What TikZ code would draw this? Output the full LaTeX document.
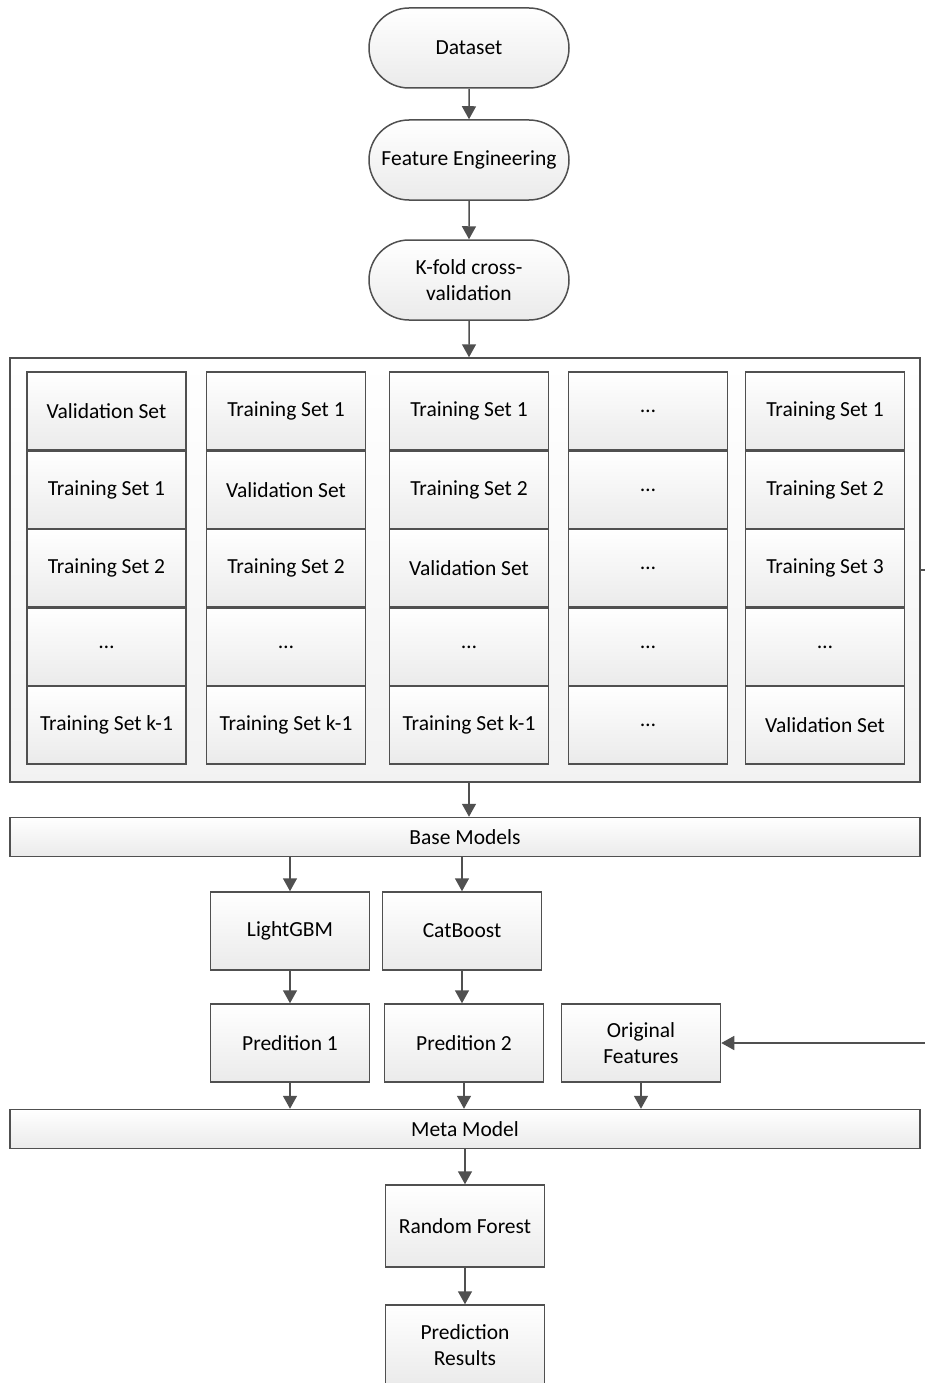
\documentclass[tikz,border=0pt]{standalone}
\usepackage{fontspec}
\setmainfont{Carlito}
\usetikzlibrary{arrows.meta,shapes.misc}
\definecolor{linegray}{RGB}{80,80,80}
\tikzset{
  box/.style={draw=linegray,line width=1.5pt,top color=white,bottom color=black!8,
    minimum width=159pt,minimum height=78pt,align=center,inner sep=2pt,
    font=\fontsize{21.5}{26}\selectfont},
  cell/.style={box,minimum height=78.4pt},
  term/.style={box,rounded rectangle,minimum width=204pt,minimum height=80pt},
  bar/.style={box,minimum width=910pt,minimum height=39pt},
  flow/.style={draw=linegray,line width=1.5pt,-{Triangle[width=14pt,length=13pt]}},
  link/.style={draw=linegray,line width=1.5pt},
}
\begin{document}
\begin{tikzpicture}[x=1pt,y=-1pt]
	  \useasboundingbox (0,0) rectangle (925,1383);
	  \node (data) [term] at (469,48) {Dataset};
	  \node (feat) [term] at (469,160) {Feature Engineering};
	  \node (kfold) [term] at (469,280) {K-fold cross-\\validation};
	  \node (folds) [box,minimum width=910pt,minimum height=424pt,bottom color=black!5] at (465,570) {};
	  \foreach \y/\a/\b/\c/\d/\e [count=\r] in {
	      411/Validation Set/Training Set 1/Training Set 1/\dots/Training Set 1,
	      490/Training Set 1/Validation Set/Training Set 2/\dots/Training Set 2,
	      568/Training Set 2/Training Set 2/Validation Set/\dots/Training Set 3,
	      647/\dots/\dots/\dots/\dots/\dots,
	      725/Training Set k-1/Training Set k-1/Training Set k-1/\dots/Validation Set}
	  {
	    \node (c\r a) [cell] at (106.5,\y) {\a};
	    \node (c\r b) [cell] at (286,\y) {\b};
	    \node (c\r c) [cell] at (469,\y) {\c};
	    \node (c\r d) [cell] at (648,\y) {\d};
	    \node (c\r e) [cell] at (825,\y) {\e};
	  }
	  \node (base) [bar] at (465,837) {Base Models};
	  \node (lgbm) [box] at (290,931) {LightGBM};
	  \node (cat) [box] at (462,931) {CatBoost};
	  \node (pred1) [box] at (290,1043) {Predition 1};
	  \node (pred2) [box] at (464,1043) {Predition 2};
	  \node (orig) [box] at (641,1043) {Original\\Features};
	  \node (meta) [bar] at (465,1129) {Meta Model};
	  \node (rf) [box,minimum height=82pt] at (465,1226) {Random Forest};
	  \node (res) [box,minimum height=80pt] at (465,1345) {Prediction\\Results};
	  \coordinate (edge1) at (926,570);
	  \coordinate (edge2) at (926,1043);
	  % connectors
	  \draw[flow] (data) -- (feat);
	  \draw[flow] (feat) -- (kfold);
	  \draw[flow] (kfold) -- (kfold |- folds.north);
	  \draw[flow] (folds.south -| kfold) -- (base.north -| kfold);
	  \draw[flow] (base.south -| lgbm) -- (lgbm);
	  \draw[flow] (base.south -| cat) -- (cat);
	  \draw[flow] (lgbm) -- (pred1);
	  \draw[flow] (cat) -- (cat |- pred2.north);
	  \draw[flow] (pred1) -- (pred1 |- meta.north);
	  \draw[flow] (pred2) -- (pred2 |- meta.north);
	  \draw[flow] (orig) -- (orig |- meta.north);
	  \draw[flow] (meta.south -| rf) -- (rf);
	  \draw[flow] (rf) -- (res);
	  \draw[link] (folds.east) -- (edge1);
	  \draw[flow] (edge2) -- (orig);
	\end{tikzpicture}
\end{document}
